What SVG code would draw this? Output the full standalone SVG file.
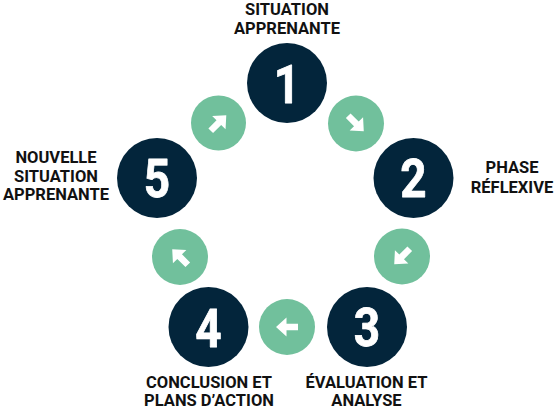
<svg xmlns="http://www.w3.org/2000/svg" width="557" height="412" viewBox="0 0 557 412">
<defs>
<style>
.step{fill:#03253b}
.link{fill:#71c09c}
.num{font-family:Roboto,"Liberation Sans",sans-serif;font-weight:700;font-size:54px;fill:#fff;stroke:#fff;stroke-width:0.8;stroke-linejoin:round;text-anchor:middle}
.lbl{font-family:Roboto,"Liberation Sans",sans-serif;font-weight:700;font-size:16.5px;fill:#111;text-anchor:middle}
.arr{fill:#fff}
</style>
<path id="arrow" d="M11 0 L0.5 -9.5 L0.5 -3.3 L-11 -3.3 L-11 3.3 L0.5 3.3 L0.5 9.5 Z"/>
</defs>
<rect width="557" height="412" fill="#fff"/>
<g id="connectors">
<g id="c12"><circle class="link" cx="356" cy="123.5" r="28"/><use href="#arrow" class="arr" transform="translate(356 123.5) rotate(45)"/></g>
<g id="c23"><circle class="link" cx="402" cy="256.5" r="28"/><use href="#arrow" class="arr" transform="translate(402 256.5) rotate(135)"/></g>
<g id="c34"><circle class="link" cx="287" cy="327" r="28"/><use href="#arrow" class="arr" transform="translate(287 327) rotate(180)"/></g>
<g id="c45"><circle class="link" cx="180" cy="257" r="28"/><use href="#arrow" class="arr" transform="translate(180 257) rotate(-135)"/></g>
<g id="c51"><circle class="link" cx="218.5" cy="123" r="27.5"/><use href="#arrow" class="arr" transform="translate(218.5 123) rotate(-45)"/></g>
</g>
<g id="node1">
<circle class="step" cx="287" cy="83" r="40"/>
<text class="num" transform="translate(287 103) scale(0.85 1)">1</text>
<text class="lbl" x="287" y="15">SITUATION</text>
<text class="lbl" x="287" y="33.5">APPRENANTE</text>
</g>
<g id="node2">
<circle class="step" cx="413.5" cy="178" r="40"/>
<text class="num" transform="translate(413.5 196.5) scale(0.85 1)">2</text>
<text class="lbl" x="512" y="173">PHASE</text>
<text class="lbl" x="512" y="192.5">RÉFLEXIVE</text>
</g>
<g id="node3">
<circle class="step" cx="367" cy="327" r="40"/>
<text class="num" transform="translate(367 346) scale(0.85 1)">3</text>
<text class="lbl" x="366.5" y="388">ÉVALUATION ET</text>
<text class="lbl" x="366.5" y="406">ANALYSE</text>
</g>
<g id="node4">
<circle class="step" cx="208.5" cy="327" r="40"/>
<text class="num" transform="translate(208.5 346.5) scale(0.85 1)">4</text>
<text class="lbl" x="209" y="388">CONCLUSION ET</text>
<text class="lbl" x="209" y="406">PLANS D’ACTION</text>
</g>
<g id="node5">
<circle class="step" cx="157" cy="178" r="40"/>
<text class="num" transform="translate(157 196.5) scale(0.85 1)">5</text>
<text class="lbl" x="56" y="163">NOUVELLE</text>
<text class="lbl" x="56" y="181.5">SITUATION</text>
<text class="lbl" x="56" y="200">APPRENANTE</text>
</g>
</svg>
